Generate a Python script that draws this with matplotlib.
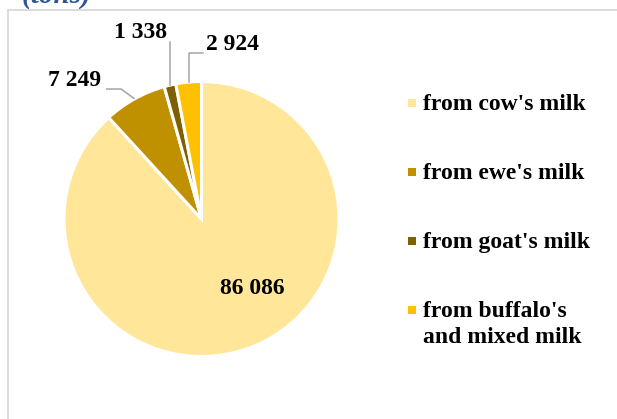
import matplotlib
matplotlib.use('Agg')
import matplotlib.pyplot as plt
import numpy as np

categories = ["from cow's milk", "from ewe's milk", "from goat's milk",
              "from buffalo's\nand mixed milk"]
values = [86086, 7249, 1338, 2924]
value_labels = ["86 086", "7 249", "1 338", "2 924"]
colors = ["#FFE699", "#BF9000", "#7F6000", "#FFC000"]
unit_text = "(tons)"

W, H = 617, 419
fig = plt.figure(figsize=(W / 100, H / 100), dpi=100)
ax = fig.add_axes([0, 0, 1, 1])

cx, cy, R = 201.5, 219.0, 137.5
# y axis inverted (pixel coords): start at top, clockwise on screen
wedges, _ = ax.pie(values, colors=colors, startangle=-90, counterclock=True,
                   center=(cx, cy), radius=R, frame=True,
                   wedgeprops=dict(edgecolor='white', linewidth=2.2))
ax.set_xlim(0, W)
ax.set_ylim(H, 0)
ax.set_aspect('equal', adjustable='box')
ax.axis('off')

font = dict(family='Liberation Serif', weight='bold', color='black')
FS = 17

# mid angles (screen) of each wedge
vals = np.array(values, dtype=float)
fr = vals / vals.sum()
cum = np.concatenate([[0], np.cumsum(fr)])
mid_screen = 90 - 360 * (cum[:-1] + fr / 2)

def edge_pt(i, rr=1.0):
    t = np.deg2rad(mid_screen[i])
    return cx + R * rr * np.cos(t), cy - R * rr * np.sin(t)

lc = '#A6A6A6'
lw = 1.1

# big label
ax.text(252, 288, value_labels[0], ha='center', va='center', fontsize=FS, **font)

# ewe
ex, ey = edge_pt(1)
ax.plot([ex, 121, 106], [ey, 89, 89], color=lc, lw=lw, solid_capstyle='butt')
ax.text(75, 81, value_labels[1], ha='center', va='center', fontsize=FS, **font)

# goat
gx, gy = edge_pt(2)
ax.plot([gx, gx], [gy, 42], color=lc, lw=lw)
ax.text(140, 32, value_labels[2], ha='center', va='center', fontsize=FS, **font)

# buffalo
bx, by = edge_pt(3)
ax.plot([bx, bx, 203], [by, 53, 53], color=lc, lw=lw)
ax.text(232, 45, value_labels[3], ha='center', va='center', fontsize=FS, **font)

# legend (manual)
base0, step, line_step = 110, 69, 26
for i, (c, lab) in enumerate(zip(colors, categories)):
    yb = base0 + i * step
    ax.scatter([412], [yb - 7], marker='s', s=34, color=c, linewidths=0)
    for k, line in enumerate(lab.split('\n')):
        ax.text(423, yb + k * line_step, line, ha='left', va='baseline',
                fontsize=FS, **font)

# frame
fc = '#D9D9D9'
ax.plot([8, 8], [10, H + 5], color=fc, lw=1.3, clip_on=False)
ax.plot([8, W + 5], [10, 10], color=fc, lw=1.3, clip_on=False)

# unit text (cut off at top, as in the original)
ax.text(22, 3, unit_text, ha='left', va='baseline', fontsize=21,
        family='Liberation Serif', weight='bold', style='italic',
        color='#2F5597', clip_on=False)

fig.savefig('out.png', dpi=100)
